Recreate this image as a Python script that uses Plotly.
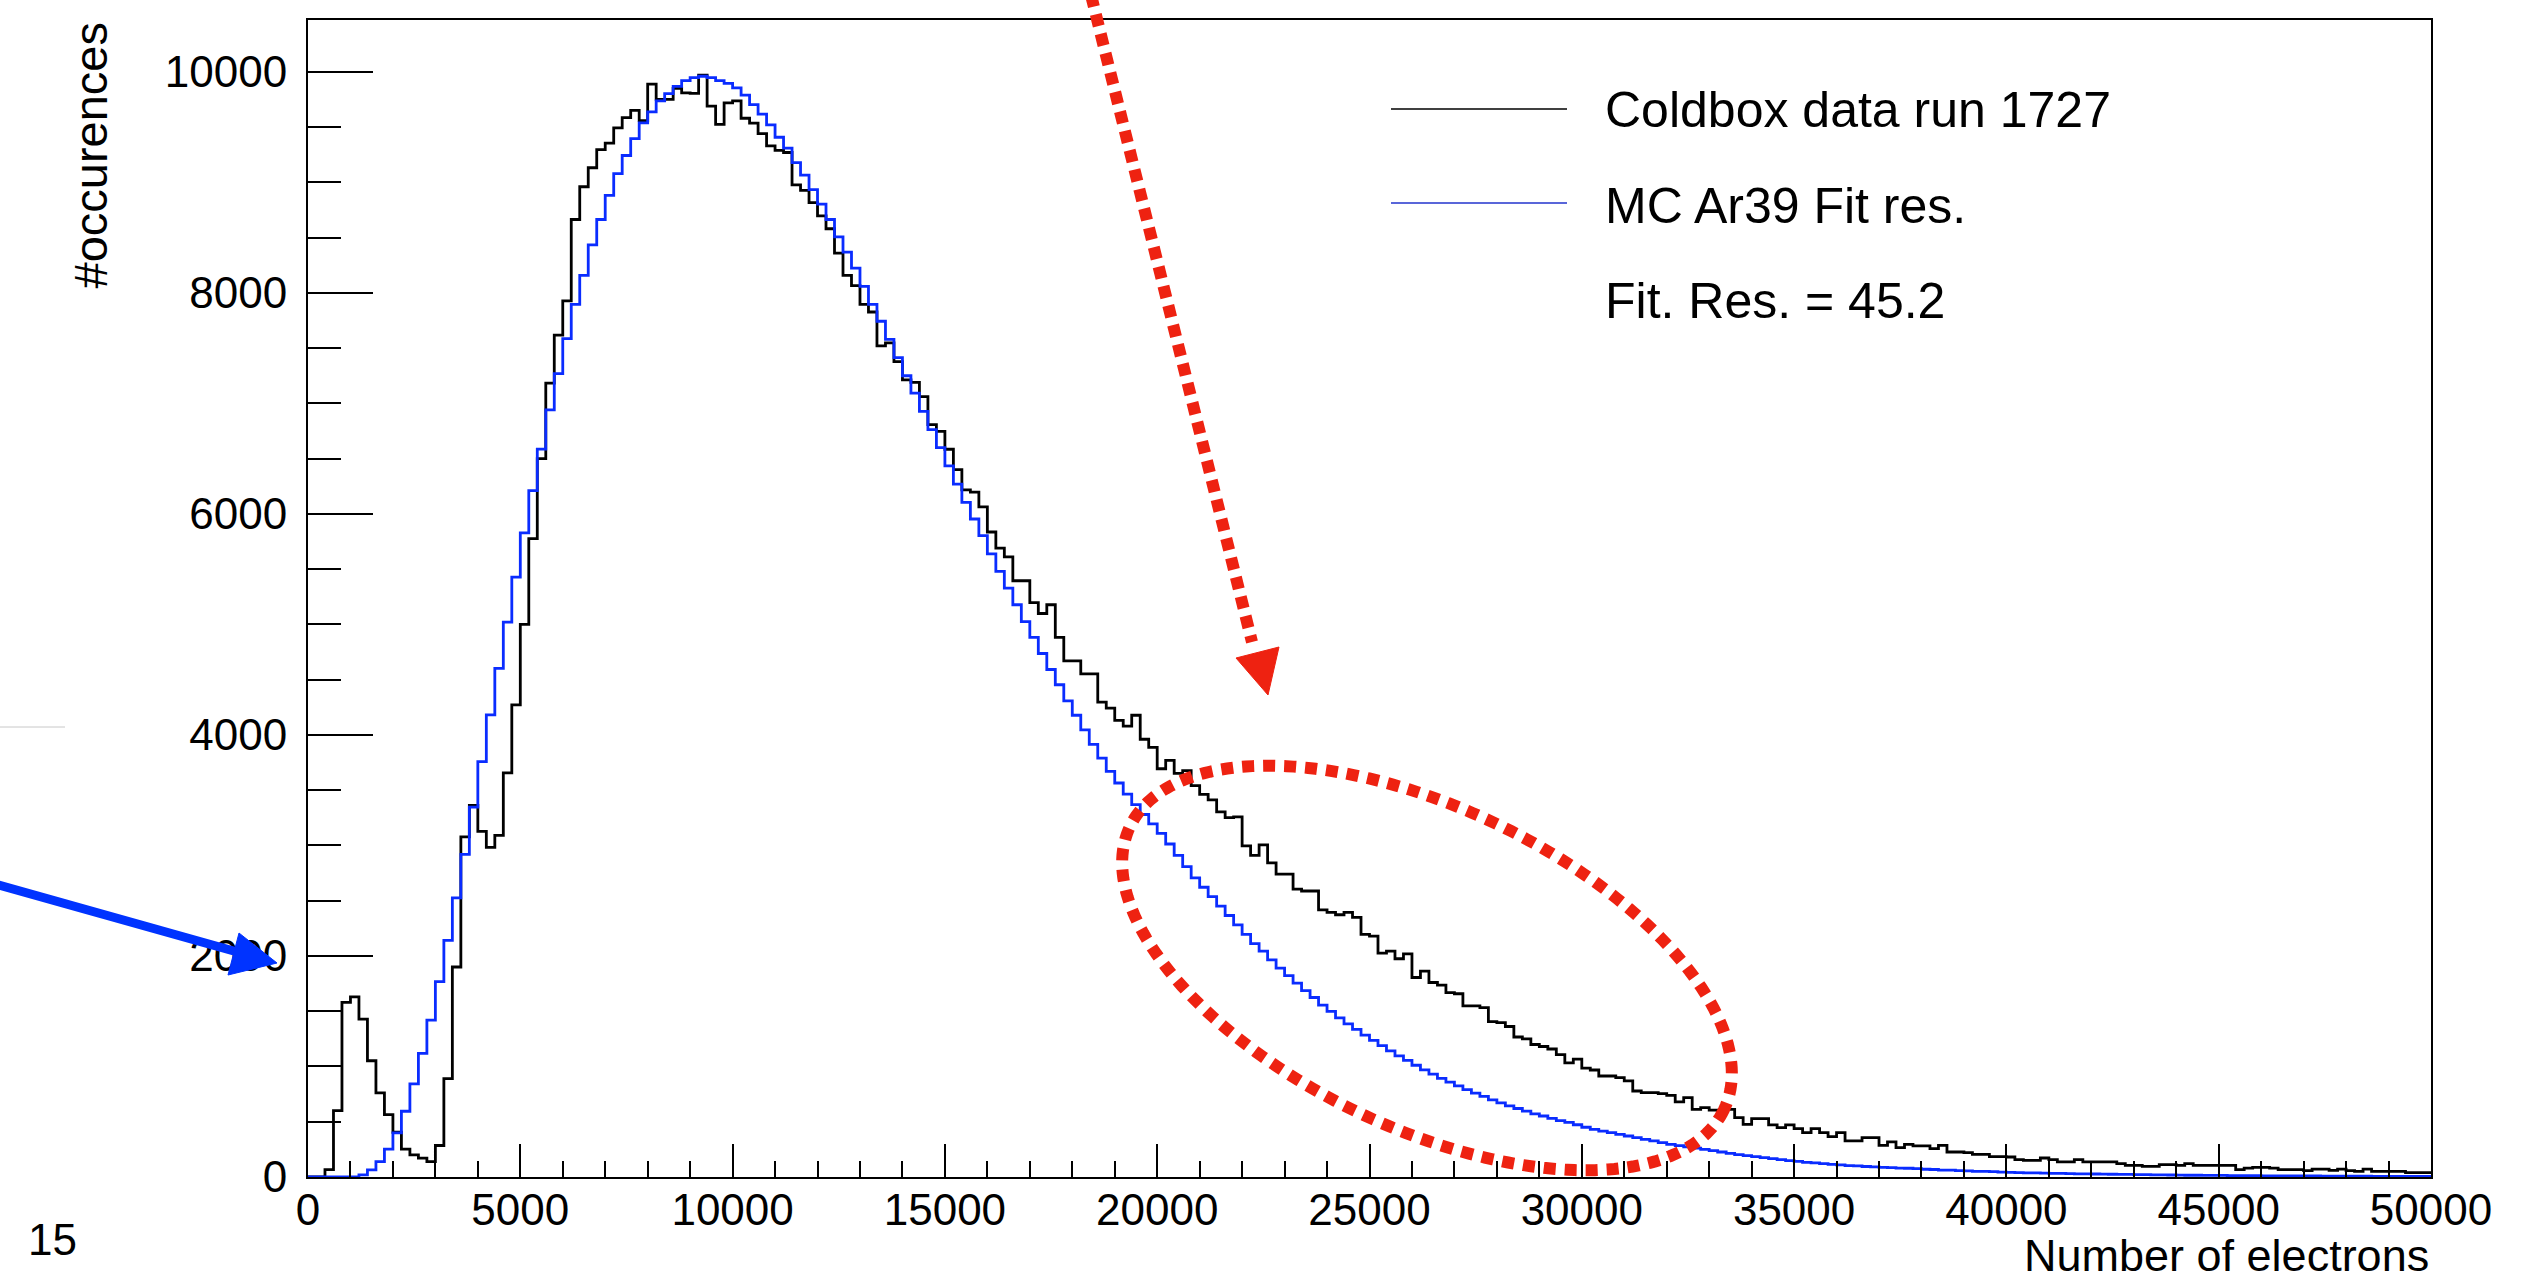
import numpy as np
import plotly.graph_objects as go

# ---------------- data ----------------
bin_width = 200
n_bins = 250
x_range = [0, 50000]
y_range = [0, 10469]

x_tick_vals = [0, 5000, 10000, 15000, 20000, 25000, 30000, 35000, 40000, 45000, 50000]
x_tick_text = ["0", "5000", "10000", "15000", "20000", "25000", "30000", "35000", "40000", "45000", "50000"]
y_tick_vals = [0, 2000, 4000, 6000, 8000, 10000]
y_tick_text = ["0", "2000", "4000", "6000", "8000", "10000"]

data_name = "Coldbox data run 1727"
mc_name = "MC Ar39 Fit res."
fit_text = "Fit. Res. = 45.2"
x_title = "Number of electrons"
y_title = "#occurences"
page_number = "15"

data_counts = [
    0, 0, 67, 600, 1580, 1630, 1428, 1052, 762, 565,
    405, 253, 200, 170, 140, 285, 890, 1900, 3077, 3362,
    3128, 2982, 3091, 3657, 4272, 5000, 5776, 6500, 7184, 7618,
    7928, 8664, 8960, 9132, 9296, 9355, 9493, 9586, 9651, 9559,
    9888, 9750, 9750, 9850, 9810, 9805, 9970, 9690, 9524, 9720,
    9737, 9580, 9535, 9440, 9330, 9290, 9270, 8978, 8927, 8816,
    8697, 8580, 8360, 8158, 8066, 7895, 7827, 7520, 7547, 7378,
    7213, 7190, 7061, 6808, 6747, 6585, 6400, 6218, 6197, 6063,
    5836, 5691, 5612, 5395, 5395, 5197, 5099, 5178, 4882, 4671,
    4671, 4553, 4553, 4296, 4243, 4132, 4079, 4178, 3961, 3887,
    3694, 3769, 3653, 3677, 3541, 3463, 3412, 3303, 3252, 3258,
    2996, 2911, 3006, 2843, 2741, 2741, 2605, 2588, 2588, 2417,
    2394, 2373, 2394, 2349, 2196, 2179, 2026, 2043, 1975, 2019,
    1805, 1862, 1760, 1736, 1668, 1658, 1549, 1549, 1532, 1406,
    1396, 1362, 1267, 1250, 1199, 1181, 1158, 1107, 1032, 1066,
    985, 968, 914, 914, 899, 869, 778, 763, 763, 754,
    739, 679, 718, 612, 627, 606, 588, 612, 537, 477,
    528, 528, 471, 446, 471, 437, 401, 437, 401, 365,
    401, 326, 326, 356, 356, 287, 317, 265, 296, 281,
    281, 256, 287, 226, 226, 220, 205, 205, 184, 184,
    181, 157, 151, 151, 172, 157, 136, 136, 157, 136,
    136, 136, 136, 121, 106, 106, 97, 97, 112, 112,
    106, 121, 106, 106, 106, 106, 106, 66, 81, 87,
    87, 81, 66, 66, 66, 57, 72, 72, 60, 72,
    57, 51, 72, 51, 51, 51, 51, 40, 40, 40,
]

mc_counts = [
    0, 0, 0, 0, 0, 0, 20, 64, 140, 253,
    400, 595, 842, 1118, 1420, 1768, 2141, 2525, 2920, 3347,
    3759, 4182, 4602, 5020, 5428, 5829, 6211, 6586, 6941, 7270,
    7586, 7895, 8158, 8434, 8664, 8882, 9079, 9243, 9395, 9539,
    9638, 9737, 9803, 9868, 9921, 9947, 9960, 9947, 9921, 9895,
    9855, 9789, 9704, 9618, 9520, 9408, 9309, 9178, 9066, 8934,
    8803, 8664, 8507, 8368, 8224, 8059, 7895, 7743, 7579, 7414,
    7250, 7092, 6928, 6763, 6599, 6434, 6270, 6105, 5954, 5803,
    5638, 5480, 5329, 5178, 5026, 4882, 4737, 4592, 4454, 4309,
    4178, 4046, 3914, 3790, 3670, 3565, 3465, 3370, 3280, 3195,
    3110, 3013, 2911, 2809, 2707, 2622, 2537, 2451, 2366, 2281,
    2196, 2111, 2043, 1965, 1890, 1822, 1754, 1686, 1624, 1556,
    1498, 1440, 1386, 1335, 1284, 1236, 1188, 1141, 1096, 1055,
    1011, 970, 930, 892, 858, 824, 790, 759, 729, 698,
    671, 644, 620, 596, 572, 552, 531, 511, 494, 473,
    450, 431, 416, 401, 386, 371, 356, 341, 326, 311,
    296, 283, 272, 262, 250, 238, 226, 214, 202, 194,
    184, 175, 166, 157, 148, 142, 133, 127, 121, 115,
    109, 103, 100, 95, 92, 87, 85, 81, 79, 75,
    70, 68, 63, 62, 57, 56, 51, 50, 48, 45,
    42, 40, 38, 37, 35, 33, 32, 30, 29, 28,
    27, 26, 25, 24, 23, 22, 21, 20, 19, 18,
    17, 16, 16, 15, 14, 14, 13, 13, 12, 12,
    11, 11, 10, 10, 9, 9, 9, 8, 8, 8,
    7, 7, 7, 6, 6, 6, 6, 5, 5, 5,
]

assert len(data_counts) == n_bins and len(mc_counts) == n_bins

# ---------------- layout constants (pixels) ----------------
W, H = 2541, 1283
PL, PR, PT, PB = 308, 2431, 20, 1177   # plot area in page pixels
FONT = "Liberation Sans, Arial, Helvetica, sans-serif"
BLACK = "#000000"
BLUE = "#0a2cff"
RED = "#ee2211"


def px(xp):
    return (xp - PL) / (PR - PL)


def py(yp):
    return (PB - yp) / (PB - PT)


edges = np.arange(n_bins + 1) * bin_width


def step_xy(vals):
    return list(edges), list(vals) + [vals[-1]]


fig = go.Figure()
for vals, col in ((data_counts, BLACK), (mc_counts, BLUE)):
    xs, ys = step_xy(vals)
    fig.add_trace(go.Scatter(x=xs, y=ys, mode="lines", line=dict(color=col, width=2.8, shape="hv"),
                             showlegend=False, cliponaxis=False, hoverinfo="skip"))

axis_common = dict(showgrid=False, zeroline=False, showline=True, linecolor=BLACK, linewidth=2,
                   mirror=True, ticks="inside", tickcolor=BLACK, tickwidth=1.6,
                   tickfont=dict(family=FONT, size=44, color=BLACK), automargin=False)

fig.update_xaxes(range=x_range, tickmode="array", tickvals=x_tick_vals, ticktext=x_tick_text,
                 ticklen=33, ticklabelstandoff=-7,
                 minor=dict(ticks="inside", dtick=1000, ticklen=16, tickwidth=1.6, tickcolor=BLACK),
                 **axis_common)
fig.update_yaxes(range=y_range, tickmode="array", tickvals=y_tick_vals, ticktext=y_tick_text,
                 ticklen=65, ticklabelstandoff=10,
                 minor=dict(ticks="inside", dtick=500, ticklen=33, tickwidth=1.6, tickcolor=BLACK),
                 **axis_common)

shapes = []
annotations = []

# legend entries
legend_rows = [(data_name, BLACK, 109, 110), (mc_name, "#2233cc", 203, 206)]
for text, col, ly, ty in legend_rows:
    shapes.append(dict(type="line", xref="paper", yref="paper", x0=px(1391), x1=px(1567),
                       y0=py(ly), y1=py(ly), line=dict(color=col, width=1.6)))
    annotations.append(dict(xref="paper", yref="paper", x=px(1603), y=py(ty), text=text,
                            xanchor="left", yanchor="middle", showarrow=False,
                            font=dict(family=FONT, size=50, color=BLACK)))
annotations.append(dict(xref="paper", yref="paper", x=px(1603), y=py(301), text=fit_text,
                        xanchor="left", yanchor="middle", showarrow=False,
                        font=dict(family=FONT, size=50, color=BLACK)))

# axis titles
annotations.append(dict(xref="paper", yref="paper", x=px(PR), y=py(1283), text=x_title,
                        xanchor="right", yanchor="bottom", showarrow=False,
                        font=dict(family=FONT, size=45, color=BLACK)))
annotations.append(dict(xref="paper", yref="paper", x=px(90), y=py(20), text=y_title, textangle=-90,
                        xanchor="center", yanchor="top", showarrow=False,
                        font=dict(family=FONT, size=47, color=BLACK)))
# slide page number
annotations.append(dict(xref="paper", yref="paper", x=px(52), y=py(1240), text=page_number,
                        xanchor="center", yanchor="middle", showarrow=False,
                        font=dict(family=FONT, size=44, color=BLACK)))

# slide decorations: red dotted arrow
shapes.append(dict(type="line", xref="paper", yref="paper", x0=px(1091), y0=py(-5), x1=px(1252), y1=py(642),
                   line=dict(color=RED, width=12, dash="12px,8px")))
shapes.append(dict(type="path", xref="paper", yref="paper",
                   path=f"M {px(1236)},{py(658)} L {px(1279)},{py(647)} L {px(1268)},{py(695)} Z",
                   fillcolor=RED, line=dict(color=RED, width=1)))

# red dotted ellipse
cx, cy, a, b, th = 1427, 968, 329, 160, np.deg2rad(25.5)
t = np.linspace(0, 2 * np.pi, 241)
ex = cx + a * np.cos(th) * np.cos(t) - b * np.sin(th) * np.sin(t)
ey = cy + a * np.sin(th) * np.cos(t) + b * np.cos(th) * np.sin(t)
path = "M " + " L ".join(f"{px(u):.5f},{py(v):.5f}" for u, v in zip(ex, ey)) + " Z"
shapes.append(dict(type="path", xref="paper", yref="paper", path=path,
                   line=dict(color=RED, width=12, dash="12px,9px")))

# blue arrow on the left
shapes.append(dict(type="line", xref="paper", yref="paper", x0=px(-5), y0=py(884), x1=px(248), y1=py(955),
                   line=dict(color="#0033ff", width=9)))
shapes.append(dict(type="path", xref="paper", yref="paper",
                   path=f"M {px(239)},{py(933)} L {px(277)},{py(963)} L {px(228)},{py(975)} Z",
                   fillcolor="#0033ff", line=dict(color="#0033ff", width=1)))

# thin grey line at left
shapes.append(dict(type="line", xref="paper", yref="paper", x0=px(0), y0=py(727), x1=px(65), y1=py(727),
                   line=dict(color="#c8c8c8", width=1)))

fig.update_layout(width=W, height=H, margin=dict(l=PL, r=W - PR, t=PT, b=H - PB),
                  paper_bgcolor="white", plot_bgcolor="white", showlegend=False,
                  shapes=shapes, annotations=annotations)

fig.write_html("out.html")
